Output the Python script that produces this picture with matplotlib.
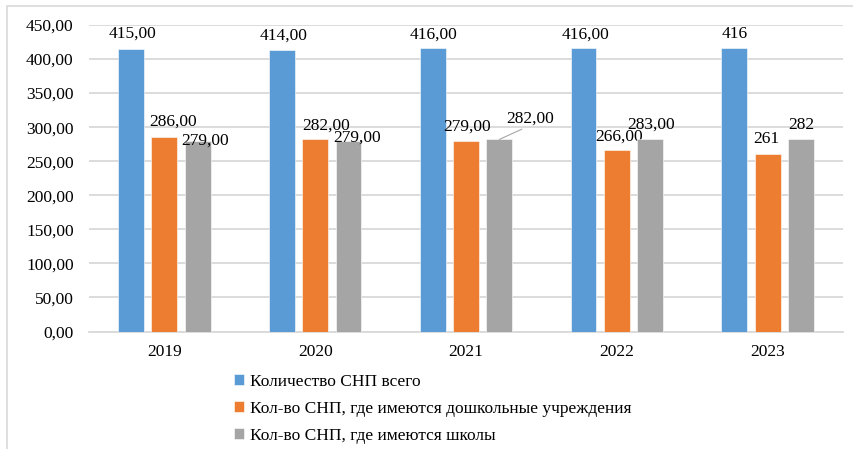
import numpy as np
import matplotlib
matplotlib.use("Agg")
import matplotlib.pyplot as plt

years = ["2019", "2020", "2021", "2022", "2023"]
total = [415, 414, 416, 416, 416]
preschool = [286, 282, 279, 266, 261]
schools = [279, 279, 282, 283, 282]
series_names = ["Количество СНП всего",
                "Кол-во СНП, где имеются дошкольные учреждения",
                "Кол-во СНП, где имеются школы"]
label_fmt = ["{:.2f}", "{:.2f}", "{:.2f}", "{:.2f}", "{:.0f}"]  # 2023 shown w/o decimals
yticks = np.arange(0, 451, 50)

colors = ["#5B9BD5", "#ED7D31", "#A5A5A5"]
# label offsets (pixels, dx right / dy up) from bar top centre, as placed in the original
offsets = {
    0: [(1.5, 11), (2, 10), (1, 10), (2.5, 10), (0, 10)],
    1: [(9, 11), (11, 10), (1.5, 11), (2.5, 10), (-1, 11)],
    2: [(7.5, -3), (9, 0), (31, 17), (1, 10), (0, 10)],
}

plt.rcParams['font.family'] = ['Liberation Serif', 'DejaVu Serif']
fs = 12.5

fig = plt.figure(figsize=(8.54, 4.49), dpi=100)
ax = fig.add_axes([89/854, 1 - 331.5/449, (843-89)/854, (331.5-25)/449])

# chart border
fig.patches.append(plt.Rectangle((7/854, -0.1), 1.0, 1 - 6/449 + 0.1, transform=fig.transFigure,
                                 fill=False, edgecolor="#D9D9D9", linewidth=1.2))

x = np.arange(len(years))
w = 0.172
step = 0.221
data = [total, preschool, schools]
for i, (vals, name) in enumerate(zip(data, series_names)):
    xs = x + (i - 1) * step
    ax.bar(xs, vals, width=w, color=colors[i], label=name, zorder=3,
           edgecolor="white", linewidth=0.4)
    for j, v in enumerate(vals):
        dx, dy = offsets[i][j]
        txt = label_fmt[j].format(v).replace(".", ",")
        if i == 2 and j == 2:
            ax.annotate(txt, xy=(xs[j], v), xytext=(dx * 0.72, dy * 0.72),
                        textcoords="offset points", ha="center", va="baseline",
                        fontsize=fs,
                        arrowprops=dict(arrowstyle="-", color="#A6A6A6", lw=0.8,
                                        shrinkA=0, shrinkB=0, relpos=(0.45, 0.0)))
        else:
            ax.annotate(txt, xy=(xs[j], v), xytext=(dx * 0.72, dy * 0.72),
                        textcoords="offset points", ha="center", va="baseline",
                        fontsize=fs)

ax.set_xlim(-0.5, len(years) - 0.5)
ax.set_ylim(0, 450)
ax.set_yticks(yticks)
ax.set_yticklabels(["{:.2f}".format(t).replace(".", ",") for t in yticks], fontsize=fs)
ax.set_xticks(x)
ax.set_xticklabels(years, fontsize=fs)
ax.tick_params(axis="y", length=0, pad=11)
ax.tick_params(axis="x", length=0, pad=9)
ax.grid(axis="y", color="#D9D9D9", linewidth=1.3, zorder=0)
for s in ["top", "right", "left"]:
    ax.spines[s].set_visible(False)
ax.spines["bottom"].set_color("#D9D9D9")
ax.spines["bottom"].set_linewidth(1.3)

fig.legend(loc="upper left", bbox_to_anchor=(234/854, 1 - 374/449), ncol=1, frameon=False,
           fontsize=fs, handlelength=0.6, handleheight=0.6, handletextpad=0.3,
           labelspacing=0.62, borderpad=0, borderaxespad=0)

fig.savefig("out.png", dpi=100)
